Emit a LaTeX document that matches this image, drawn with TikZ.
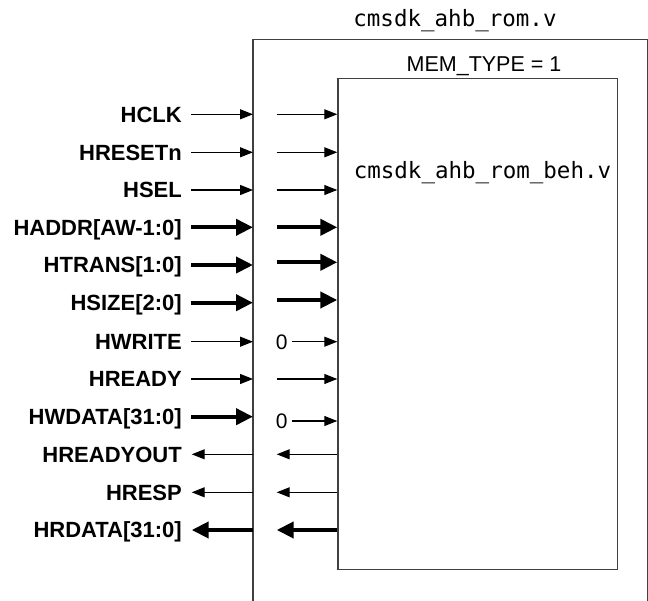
\documentclass[tikz,border=0pt]{standalone}
\usepackage{fontspec}
\setmainfont{Liberation Sans}
\setmonofont{DejaVu Sans Mono}
\usetikzlibrary{arrows.meta}
\begin{document}
\begin{tikzpicture}[x=1pt,y=-1pt,
  sig/.style={line width=1.1pt,-{Triangle[length=13pt,width=10pt]}},
  bus/.style={line width=4pt,-{Triangle[length=17pt,width=16pt]}},
  boxline/.style={line width=1.4pt,draw=black!75},
  lab/.style={inner sep=0pt,anchor=base east,font=\fontsize{22}{25}\selectfont\bfseries},
  zero/.style={inner sep=0pt,anchor=base,font=\fontsize{21}{24}\selectfont},
  mono/.style={inner sep=0pt,anchor=base,font=\fontsize{22.5}{26}\selectfont\ttfamily},
  title/.style={inner sep=0pt,anchor=base,font=\fontsize{21.5}{25}\selectfont}]
\useasboundingbox (0,0) rectangle (648,601);
% outer wrapper box (open at bottom)
\draw[boxline] (253,601) -- (253,39.3) -- (647.3,39.3) -- (647.3,601);
% inner behavioural box
\node[boxline,draw,minimum width=279.4pt,minimum height=491pt,inner sep=0pt,anchor=north west] (beh) at (337.3,77.7) {};
\node[mono] (toptitle) at (455,26.7) {cmsdk\_ahb\_rom.v};
\node[title] (memtype) at (484,72) {MEM\_TYPE = 1};
\node[mono] (behname) at (482.5,178.3) {cmsdk\_ahb\_rom\_beh.v};
% input rows: label / outer y / inner y / style
\foreach \n/\lbl/\yo/\yi/\st in {
  1/HCLK/114.3/114.3/sig,
  2/HRESETn/152.3/152.3/sig,
  3/HSEL/190/190/sig,
  4/HADDR[AW-1:0]/227.3/227.3/bus,
  5/HTRANS[1:0]/265/262.3/bus,
  6/HSIZE[2:0]/302.7/300/bus,
  8/HREADY/379/379/sig}{
  \node[lab] (L\n) at (182,\yo+7.8) {\lbl};
  \coordinate (os\n) at (191,\yo);
  \coordinate (oe\n) at (253,\yo);
  \coordinate (is\n) at (276.7,\yi);
  \coordinate (ie\n) at (337.3,\yi);
  \draw[\st] (os\n) -- (oe\n);
  \draw[\st] (is\n) -- (ie\n);
}
% HWRITE (tied to 0 inside)
\node[lab] (L7) at (182,341.7+7.8) {HWRITE};
\coordinate (os7) at (191,341.7);
\coordinate (oe7) at (253,341.7);
\draw[sig] (os7) -- (oe7);
\node[zero] (z7) at (281.7,341.7+7.5) {0};
\coordinate (is7) at (291.7,341.7);
\coordinate (ie7) at (337.3,341.7);
\draw[sig] (is7) -- (ie7);
% HWDATA (tied to 0 inside)
\node[lab] (L9) at (182,416.7+7.8) {HWDATA[31:0]};
\coordinate (os9) at (191,416.7);
\coordinate (oe9) at (253,416.7);
\draw[bus] (os9) -- (oe9);
\node[zero] (z9) at (281.7,421+7.5) {0};
\coordinate (is9) at (291.7,421);
\coordinate (ie9) at (337.3,421);
\draw[sig] (is9) -- (ie9);
% outputs
\foreach \n/\lbl/\yo/\st in {
  10/HREADYOUT/454.3/sig,
  11/HRESP/492.3/sig,
  12/HRDATA[31:0]/530/bus}{
  \node[lab] (L\n) at (182,\yo+7.8) {\lbl};
  \coordinate (os\n) at (253,\yo);
  \coordinate (oe\n) at (191.7,\yo);
  \coordinate (is\n) at (337.3,\yo);
  \coordinate (ie\n) at (276.7,\yo);
  \draw[\st] (os\n) -- (oe\n);
  \draw[\st] (is\n) -- (ie\n);
}
\end{tikzpicture}
\end{document}
